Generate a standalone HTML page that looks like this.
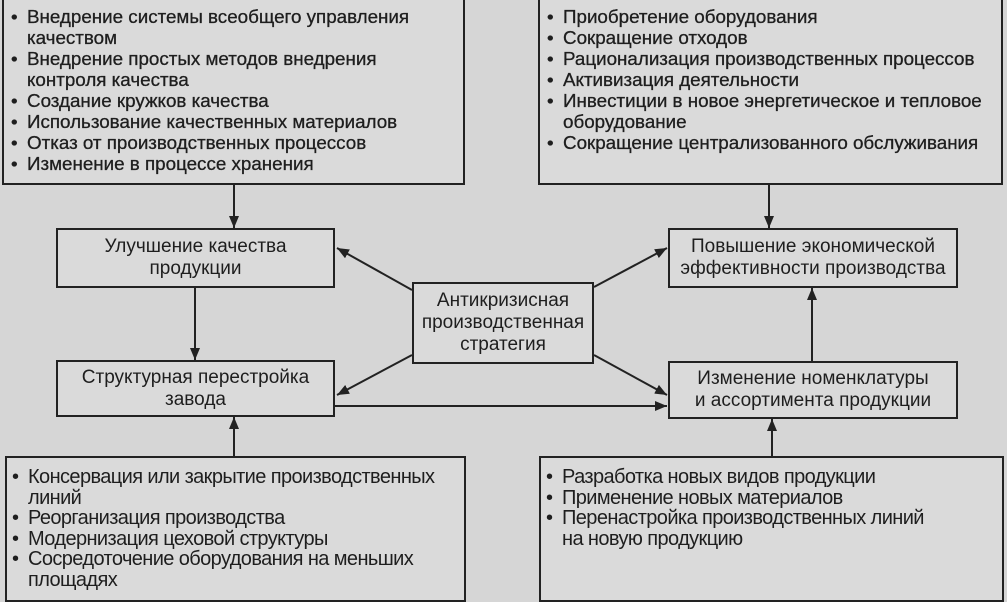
<!DOCTYPE html>
<html><head><meta charset="utf-8"><style>
body{margin:0;width:1007px;height:600px;background:#d6d6d6;position:relative;overflow:hidden;font-family:"Liberation Sans",sans-serif;color:#1e1e1e}
.b{position:absolute;border:2px solid #222;box-sizing:border-box;background:#dadada}
.c{display:flex;align-items:center;justify-content:center;text-align:center;font-size:19px;line-height:22px;white-space:nowrap}
ul{margin:0;padding:0;list-style:none}
li{position:relative;padding-left:20px;white-space:nowrap}
li:before{content:"•";position:absolute;left:4px}
.t{font-size:18.8px;line-height:21px;padding-top:6px;padding-left:3px;-webkit-text-stroke:0.3px #1e1e1e}
.n{font-size:20px;line-height:20.5px;padding-top:9px;padding-left:1px;letter-spacing:-0.6px}
svg{position:absolute;left:0;top:0}
</style></head><body>
<div class="b t" style="left:2px;top:-2px;width:463px;height:187px"><ul>
<li>Внедрение системы всеобщего управления<br>качеством</li>
<li>Внедрение простых методов внедрения<br>контроля качества</li>
<li>Создание кружков качества</li>
<li>Использование качественных материалов</li>
<li>Отказ от производственных процессов</li>
<li>Изменение в процессе хранения</li></ul></div>
<div class="b t" style="left:538px;top:-2px;width:465px;height:187px"><ul>
<li>Приобретение оборудования</li>
<li>Сокращение отходов</li>
<li>Рационализация производственных процессов</li>
<li>Активизация деятельности</li>
<li>Инвестиции в новое энергетическое и тепловое<br>оборудование</li>
<li>Сокращение централизованного обслуживания</li></ul></div>
<div class="b c" style="left:56px;top:228px;width:279px;height:60px">Улучшение качества<br>продукции</div>
<div class="b c" style="left:668px;top:228px;width:290px;height:60px">Повышение экономической<br>эффективности производства</div>
<div class="b c" style="left:412px;top:282px;width:182px;height:82px">Антикризисная<br>производственная<br>стратегия</div>
<div class="b c" style="left:56px;top:360px;width:279px;height:57px">Структурная перестройка<br>завода</div>
<div class="b c" style="left:668px;top:361px;width:290px;height:58px">Изменение номенклатуры<br>и ассортимента продукции</div>
<div class="b n" style="left:5px;top:456px;width:461px;height:146px"><ul>
<li>Консервация или закрытие производственных<br>линий</li>
<li>Реорганизация производства</li>
<li>Модернизация цеховой структуры</li>
<li>Сосредоточение оборудования на меньших<br>площадях</li></ul></div>
<div class="b n" style="left:539px;top:456px;width:465px;height:146px"><ul>
<li>Разработка новых видов продукции</li>
<li>Применение новых материалов</li>
<li>Перенастройка производственных линий<br>на новую продукцию</li></ul></div>
<svg width="1007" height="600"><defs><marker id="a" markerWidth="12" markerHeight="10" refX="12" refY="5" orient="auto" markerUnits="userSpaceOnUse"><path d="M0,0L12,5L0,10z" fill="#222"/></marker></defs>
<g stroke="#222" stroke-width="2" fill="none" marker-end="url(#a)">
<line x1="234" y1="185" x2="234" y2="228"/>
<line x1="769" y1="185" x2="769" y2="228"/>
<line x1="195" y1="288" x2="195" y2="360"/>
<line x1="234" y1="456" x2="234" y2="417"/>
<line x1="772" y1="456" x2="772" y2="419"/>
<line x1="812" y1="361" x2="812" y2="288"/>
<line x1="412" y1="290" x2="337" y2="248"/>
<line x1="594" y1="287" x2="667" y2="248"/>
<line x1="412" y1="355" x2="337" y2="395"/>
<line x1="594" y1="355" x2="667" y2="395"/>
<line x1="335" y1="406" x2="667" y2="406"/>
</g></svg>
</body></html>
